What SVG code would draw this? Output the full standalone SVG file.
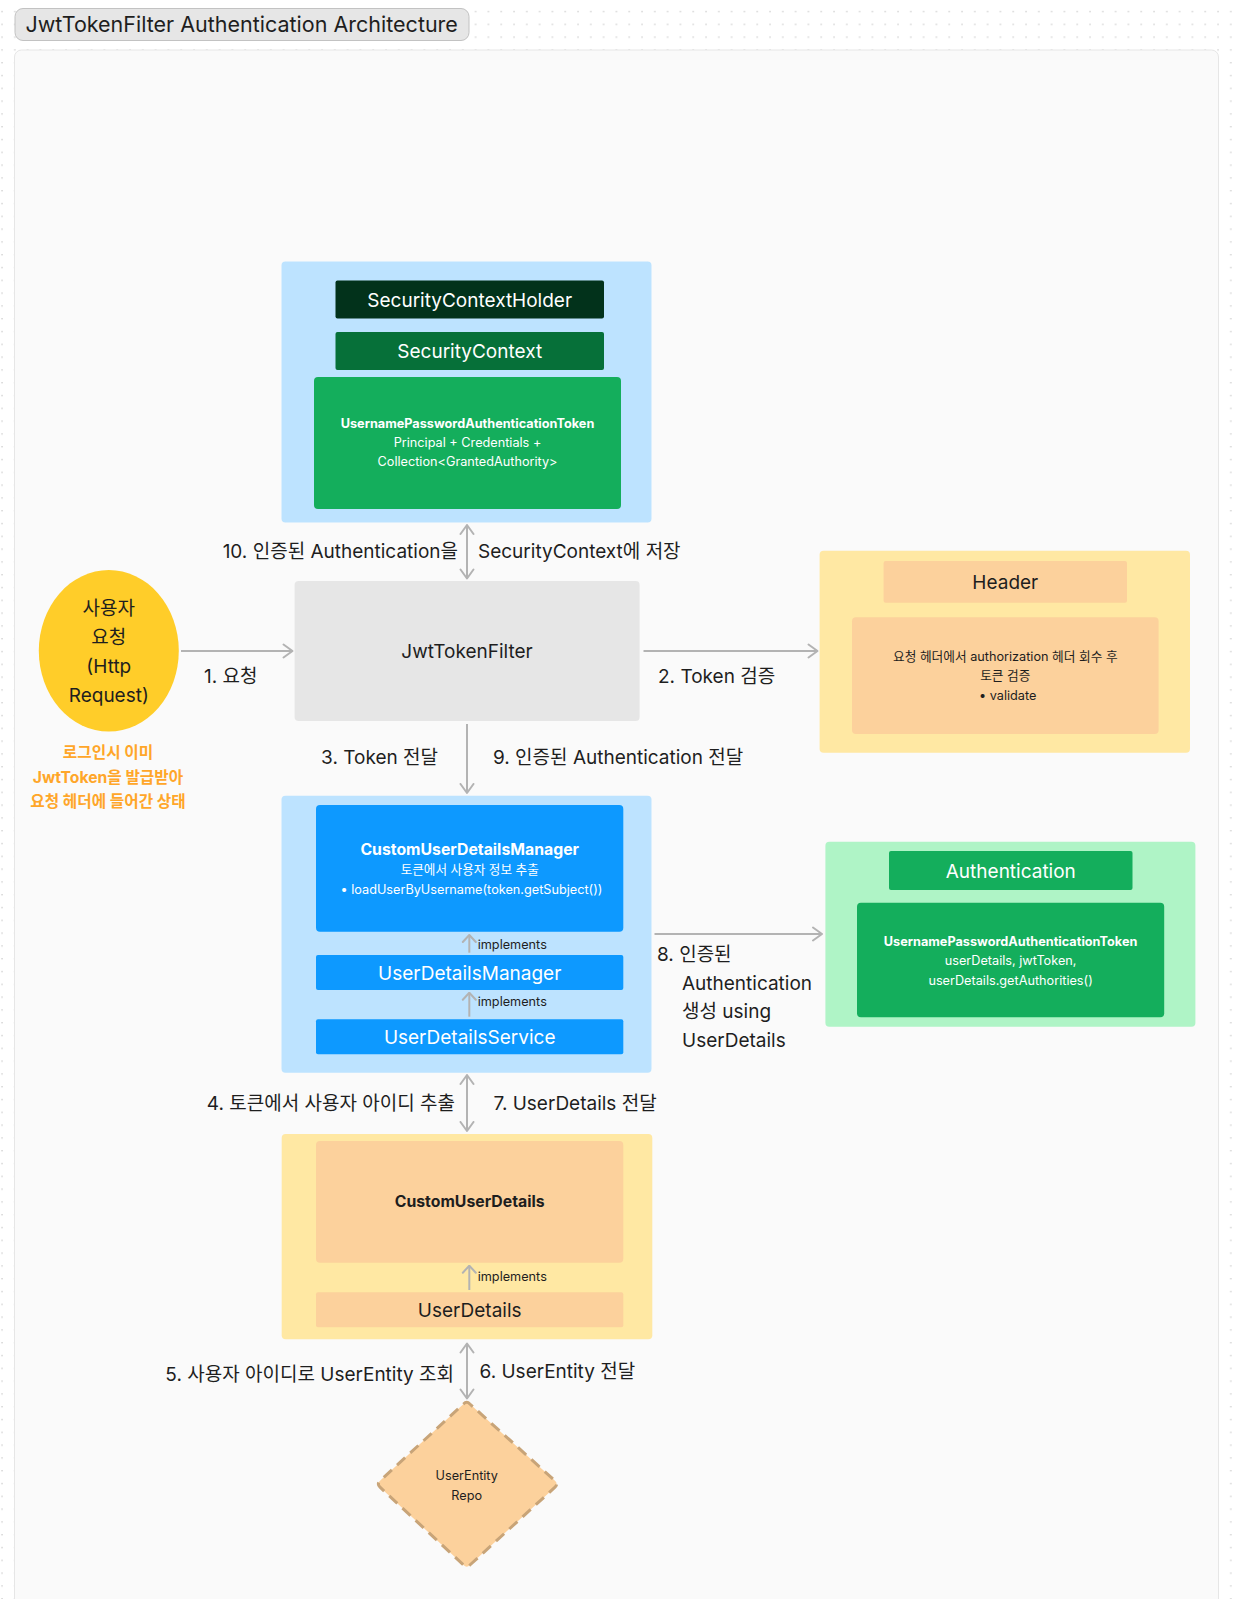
<svg xmlns="http://www.w3.org/2000/svg" width="1234" height="1599" viewBox="0 0 1234 1599">
<style>
text{font-family:Inter,"Noto Sans CJK KR","Noto Sans",sans-serif;fill:#1e1e1e}
.lbl{font-size:19px}
.big{font-size:19px}
.w{fill:#ffffff}
.sm{font-size:12.7px}
.b{font-weight:700}
.c{text-anchor:middle}
.e{text-anchor:end}
.note{font-size:15.7px;font-weight:700;fill:#ffa629;text-anchor:middle}
.con{stroke:#b3b3b3;stroke-width:2;fill:none}
</style>
<defs>
<pattern id="dots" patternUnits="userSpaceOnUse" x="0" y="0" width="12.8" height="12.8">
<circle cx="2" cy="11.6" r="0.8" fill="#c8c8c8"/>
</pattern>
<marker id="ah" viewBox="0 0 12 16" refX="10.5" refY="8" markerWidth="12" markerHeight="16" markerUnits="userSpaceOnUse" orient="auto-start-reverse">
<path d="M1.5,1.5 L10.5,8 L1.5,14.5" fill="none" stroke="#b3b3b3" stroke-width="2" stroke-linecap="round" stroke-linejoin="round"/>
</marker>
<marker id="ahs" viewBox="0 0 9 16" refX="8" refY="8" markerWidth="9" markerHeight="16" markerUnits="userSpaceOnUse" orient="auto">
<path d="M1,1.5 L8,8 L1,14.5" fill="none" stroke="#b3b3b3" stroke-width="2" stroke-linecap="round" stroke-linejoin="round"/>
</marker>
</defs>

<rect x="0" y="0" width="1234" height="1599" fill="#ffffff"/>
<rect x="0" y="0" width="1234" height="1599" fill="url(#dots)"/>

<g id="panel">
<rect x="14.5" y="50" width="1204" height="1580" rx="7" fill="#fafafa" stroke="#e6e6e6" stroke-width="1"/>
</g>

<g id="title">
<rect x="15" y="8.5" width="454" height="32" rx="8" fill="#e6e6e6" stroke="#c2c2c2" stroke-width="1"/>
<text x="25.5" y="32" style="font-size:21.5px">JwtTokenFilter Authentication Architecture</text>
</g>

<g id="connectors">
<line class="con" x1="181" y1="651" x2="292.5" y2="651" marker-end="url(#ah)"/>
<line class="con" x1="643.5" y1="651" x2="817.5" y2="651" marker-end="url(#ah)"/>
<line class="con" x1="467" y1="525" x2="467" y2="578.5" marker-start="url(#ah)" marker-end="url(#ah)"/>
<line class="con" x1="467" y1="724" x2="467" y2="793" marker-end="url(#ah)"/>
<line class="con" x1="654.5" y1="934" x2="822" y2="934" marker-end="url(#ah)"/>
<line class="con" x1="467" y1="1075" x2="467" y2="1131" marker-start="url(#ah)" marker-end="url(#ah)"/>
<line class="con" x1="467" y1="1343.5" x2="467" y2="1398.5" marker-start="url(#ah)" marker-end="url(#ah)"/>
<text class="lbl e" x="458" y="558">10. 인증된 Authentication을</text>
<text class="lbl" x="478" y="558">SecurityContext에 저장</text>
<text class="lbl" x="204" y="683">1. 요청</text>
<text class="lbl" x="658" y="683">2. Token 검증</text>
<text class="lbl e" x="438" y="763.5">3. Token 전달</text>
<text class="lbl" x="493" y="763.5">9. 인증된 Authentication 전달</text>
<text class="lbl" x="657" y="961">8. 인증된</text>
<text class="lbl" x="682" y="989.5">Authentication</text>
<text class="lbl" x="682" y="1018">생성 using</text>
<text class="lbl" x="682" y="1046.5">UserDetails</text>
<text class="lbl e" x="455" y="1110">4. 토큰에서 사용자 아이디 추출</text>
<text class="lbl" x="493.5" y="1110">7. UserDetails 전달</text>
<text class="lbl e" x="454" y="1381">5. 사용자 아이디로 UserEntity 조회</text>
<text class="lbl" x="479.5" y="1378">6. UserEntity 전달</text>
</g>

<g id="security-container">
<rect x="281.5" y="261.5" width="370" height="261" rx="4" fill="#bde3ff"/>
</g>
<g id="security-context-holder">
<rect x="335.5" y="280.5" width="268.5" height="38" rx="2" fill="#02321b"/>
<text class="big w c" x="469.7" y="306.5">SecurityContextHolder</text>
</g>
<g id="security-context">
<rect x="335.5" y="332" width="268.5" height="38" rx="2" fill="#067039"/>
<text class="big w c" x="469.7" y="358">SecurityContext</text>
</g>
<g id="context-token">
<rect x="314" y="377" width="307" height="132" rx="4" fill="#14ae5c"/>
<text class="sm w c b" x="467.5" y="427.7">UsernamePasswordAuthenticationToken</text>
<text class="sm w c" x="467.5" y="447">Principal + Credentials +</text>
<text class="sm w c" x="467.5" y="466.3">Collection&lt;GrantedAuthority&gt;</text>
</g>

<g id="user-request">
<ellipse cx="108.8" cy="650.8" rx="70" ry="80.8" fill="#ffcd29"/>
<text class="c" x="108.8" y="614.5" style="font-size:19px">사용자</text>
<text class="c" x="108.8" y="643.5" style="font-size:19px">요청</text>
<text class="c" x="108.8" y="672.5" style="font-size:19px">(Http</text>
<text class="c" x="108.8" y="701.5" style="font-size:19px">Request)</text>
</g>
<g id="request-note">
<text class="note" x="108" y="758">로그인시 이미</text>
<text class="note" x="108" y="782.5">JwtToken을 발급받아</text>
<text class="note" x="108" y="807">요청 헤더에 들어간 상태</text>
</g>

<g id="jwt-token-filter">
<rect x="294.6" y="581" width="345" height="140" rx="4" fill="#e6e6e6"/>
<text class="lbl c" x="467" y="658">JwtTokenFilter</text>
</g>

<g id="header-container">
<rect x="819.6" y="550.7" width="370.4" height="202" rx="4" fill="#ffe8a3"/>
</g>
<g id="header">
<rect x="883.6" y="561" width="243.4" height="41.7" rx="2" fill="#fcd19c"/>
<text class="big c" x="1005.3" y="589.3">Header</text>
</g>
<g id="header-validate">
<rect x="852" y="617.3" width="306.6" height="116.7" rx="4" fill="#fcd19c"/>
<text class="sm c" x="1005.3" y="661">요청 헤더에서 authorization 헤더 회수 후</text>
<text class="sm c" x="1005.3" y="680">토큰 검증</text>
<text class="sm" x="979" y="699.5">•  validate</text>
</g>

<g id="manager-container">
<rect x="281.5" y="795.7" width="370" height="277" rx="4" fill="#bde3ff"/>
</g>
<g id="custom-user-details-manager">
<rect x="316" y="805" width="307.3" height="126.7" rx="4" fill="#0d99ff"/>
<text class="w c b" x="469.7" y="855" style="font-size:15.8px">CustomUserDetailsManager</text>
<text class="w c" x="469.7" y="874" style="font-size:12.6px">토큰에서 사용자 정보 추출</text>
<text class="w sm" x="340.5" y="893.7">•  loadUserByUsername(token.getSubject())</text>
</g>
<g id="user-details-manager">
<rect x="316" y="955" width="307.3" height="35" rx="2" fill="#0d99ff"/>
<text class="big w c" x="469.7" y="980">UserDetailsManager</text>
</g>
<g id="user-details-service">
<rect x="316" y="1019.3" width="307.3" height="35" rx="2" fill="#0d99ff"/>
<text class="big w c" x="469.7" y="1044">UserDetailsService</text>
</g>

<g id="authentication-container">
<rect x="825.4" y="841.7" width="370" height="185" rx="4" fill="#aff4c6"/>
</g>
<g id="authentication">
<rect x="889" y="851" width="243.5" height="39" rx="2" fill="#14ae5c"/>
<text class="big w c" x="1010.8" y="877.7">Authentication</text>
</g>
<g id="authentication-token">
<rect x="857" y="902.7" width="307.2" height="114.6" rx="4" fill="#14ae5c"/>
<text class="sm w c b" x="1010.6" y="945.5">UsernamePasswordAuthenticationToken</text>
<text class="sm w c" x="1010.6" y="965">userDetails, jwtToken,</text>
<text class="sm w c" x="1010.6" y="984.5">userDetails.getAuthorities()</text>
</g>

<g id="details-container">
<rect x="281.7" y="1134" width="370.6" height="205.3" rx="4" fill="#ffe8a3"/>
</g>
<g id="custom-user-details">
<rect x="316" y="1141" width="307.3" height="121.7" rx="4" fill="#fcd19c"/>
<text class="c b" x="469.7" y="1206.5" style="font-size:15.8px">CustomUserDetails</text>
</g>
<g id="user-details">
<rect x="316" y="1292.3" width="307.3" height="35" rx="2" fill="#fcd19c"/>
<text class="big c" x="469.7" y="1317">UserDetails</text>
</g>

<g id="implements-connectors">
<line class="con" x1="469.3" y1="952.7" x2="469.3" y2="935" marker-end="url(#ahs)"/>
<text class="sm" x="477.7" y="948.5">implements</text>
<line class="con" x1="469.3" y1="1016.7" x2="469.3" y2="992.7" marker-end="url(#ahs)"/>
<text class="sm" x="477.7" y="1006">implements</text>
<line class="con" x1="469.3" y1="1290" x2="469.3" y2="1265.7" marker-end="url(#ahs)"/>
<text class="sm" x="477.7" y="1280.5">implements</text>
</g>

<g id="user-entity-repo">
<path d="M463.5,1404 Q466.7,1400.7 469.9,1404 L555,1480.8 Q558.3,1484 555,1487.2 L469.9,1565 Q466.7,1568.3 463.5,1565 L380,1487.2 Q376.7,1484 380,1480.8 Z" fill="#fcd19c" stroke="#c8a478" stroke-width="3" stroke-dasharray="11 7"/>
<text class="sm c" x="466.7" y="1479.5">UserEntity</text>
<text class="sm c" x="466.7" y="1499.5">Repo</text>
</g>
</svg>
